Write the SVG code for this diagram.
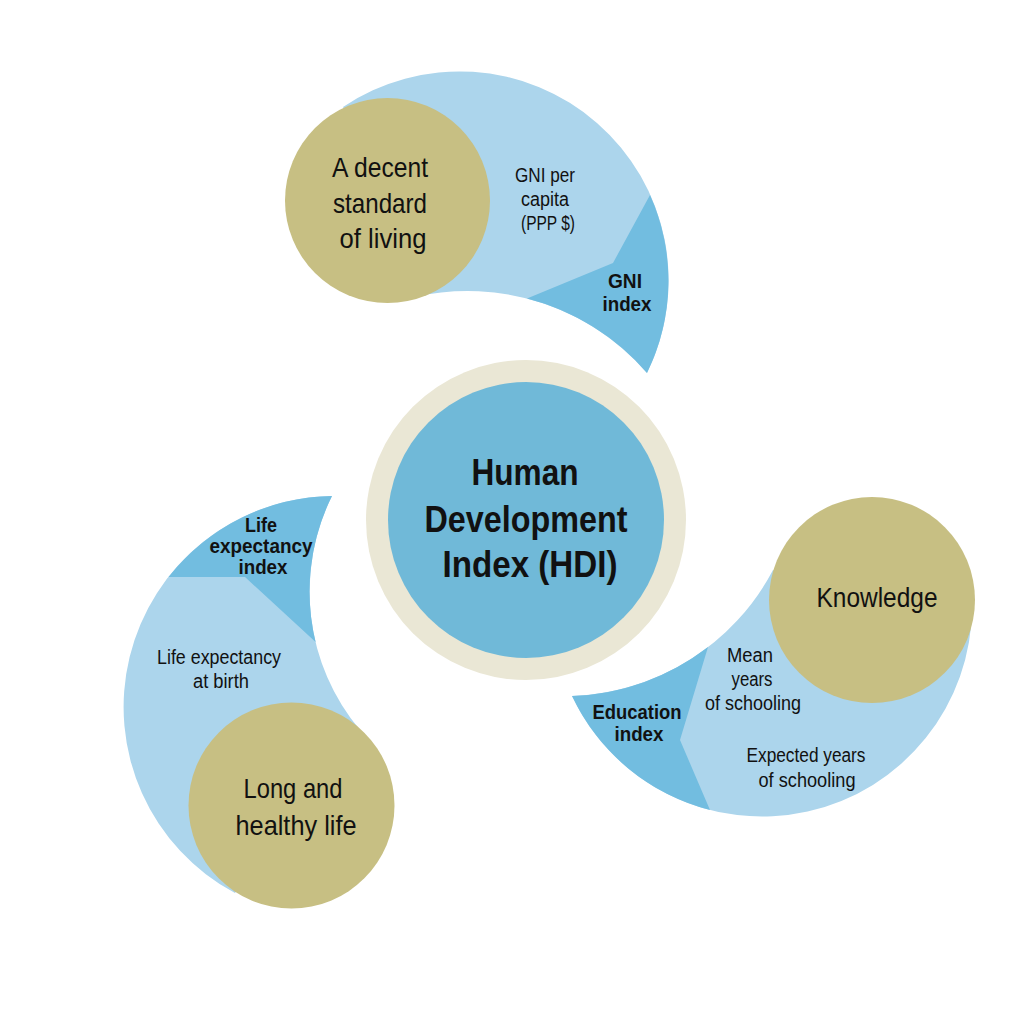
<svg xmlns="http://www.w3.org/2000/svg" width="1035" height="1035" viewBox="0 0 1035 1035">
<style>
.light{fill:#acd5ec}
.dark{fill:#72bde0}
.tan{fill:#c7bf83}
text{font-family:"Liberation Sans",Arial,sans-serif;fill:#111;text-anchor:middle}
.big{font-size:28px}
.sm{font-size:20px}
.b{font-weight:bold}
.hdi{font-size:37px;font-weight:bold}
</style>
<rect width="1035" height="1035" fill="#fff"/>
<g id="connectors"/>
<g id="living">
<path class="light" d="M343,107 A209,209 0 0 1 647,373 A237,237 0 0 0 415,297 L388,201 Z"/>
<path class="dark" d="M527,298.5 L613,263 L650,195 A209,209 0 0 1 647,373 A237,237 0 0 0 527,298.5 Z"/>
<circle class="tan" cx="387.5" cy="200.5" r="102.5"/>
<text class="big" x="380" y="177" textLength="96" lengthAdjust="spacingAndGlyphs">A decent</text>
<text class="big" x="380" y="213" textLength="94" lengthAdjust="spacingAndGlyphs">standard</text>
<text class="big" x="383" y="248" textLength="87" lengthAdjust="spacingAndGlyphs">of living</text>
<text class="sm" x="545" y="182" textLength="60" lengthAdjust="spacingAndGlyphs">GNI per</text>
<text class="sm" x="545" y="206" textLength="48" lengthAdjust="spacingAndGlyphs">capita</text>
<text class="sm" x="548" y="230" textLength="54" lengthAdjust="spacingAndGlyphs">(PPP $)</text>
<text class="sm b" x="625" y="288" textLength="34" lengthAdjust="spacingAndGlyphs">GNI</text>
<text class="sm b" x="627" y="311" textLength="49" lengthAdjust="spacingAndGlyphs">index</text>
</g>
<g id="health">
<path class="light" d="M332,496 A211,211 0 0 0 235,893 L291,805 L360,730 A215,215 0 0 1 332,496 Z"/>
<path class="dark" d="M168.5,577 L245,577 L315.6,642 A215,215 0 0 1 332,496 A211,211 0 0 0 168.5,577 Z"/>
<circle class="tan" cx="291.5" cy="805.5" r="103"/>
<text class="sm b" x="261" y="532" textLength="32" lengthAdjust="spacingAndGlyphs">Life</text>
<text class="sm b" x="261" y="553" textLength="103" lengthAdjust="spacingAndGlyphs">expectancy</text>
<text class="sm b" x="263" y="574" textLength="49" lengthAdjust="spacingAndGlyphs">index</text>
<text class="sm" x="219" y="664" textLength="124" lengthAdjust="spacingAndGlyphs">Life expectancy</text>
<text class="sm" x="221" y="688" textLength="56" lengthAdjust="spacingAndGlyphs">at birth</text>
<text class="big" x="293" y="798" textLength="99" lengthAdjust="spacingAndGlyphs">Long and</text>
<text class="big" x="296" y="835" textLength="121" lengthAdjust="spacingAndGlyphs">healthy life</text>
</g>
<g id="knowledge">
<path class="light" d="M572,696 A210,210 0 0 0 972,607 L872,600 L773,570 A236,236 0 0 1 572,696 Z"/>
<path class="dark" d="M572,696 A236,236 0 0 0 708,647 L680,740 L710,810 A210,210 0 0 1 572,696 Z"/>
<circle class="tan" cx="872" cy="600" r="103"/>
<text class="big" x="877" y="607" textLength="121" lengthAdjust="spacingAndGlyphs">Knowledge</text>
<text class="sm" x="750" y="662" textLength="46" lengthAdjust="spacingAndGlyphs">Mean</text>
<text class="sm" x="752" y="686" textLength="41" lengthAdjust="spacingAndGlyphs">years</text>
<text class="sm" x="753" y="710" textLength="96" lengthAdjust="spacingAndGlyphs">of schooling</text>
<text class="sm b" x="637" y="719" textLength="89" lengthAdjust="spacingAndGlyphs">Education</text>
<text class="sm b" x="639" y="741" textLength="49" lengthAdjust="spacingAndGlyphs">index</text>
<text class="sm" x="806" y="762" textLength="119" lengthAdjust="spacingAndGlyphs">Expected years</text>
<text class="sm" x="807" y="787" textLength="97" lengthAdjust="spacingAndGlyphs">of schooling</text>
</g>
<g id="hdi">
<circle cx="526" cy="520" r="160" fill="#eae7d5"/>
<circle cx="526" cy="520" r="138" fill="#70b9d8"/>
<text class="hdi" x="525" y="485" textLength="107" lengthAdjust="spacingAndGlyphs">Human</text>
<text class="hdi" x="526" y="532" textLength="203" lengthAdjust="spacingAndGlyphs">Development</text>
<text class="hdi" x="530" y="577" textLength="175" lengthAdjust="spacingAndGlyphs">Index (HDI)</text>
</g>
</svg>
